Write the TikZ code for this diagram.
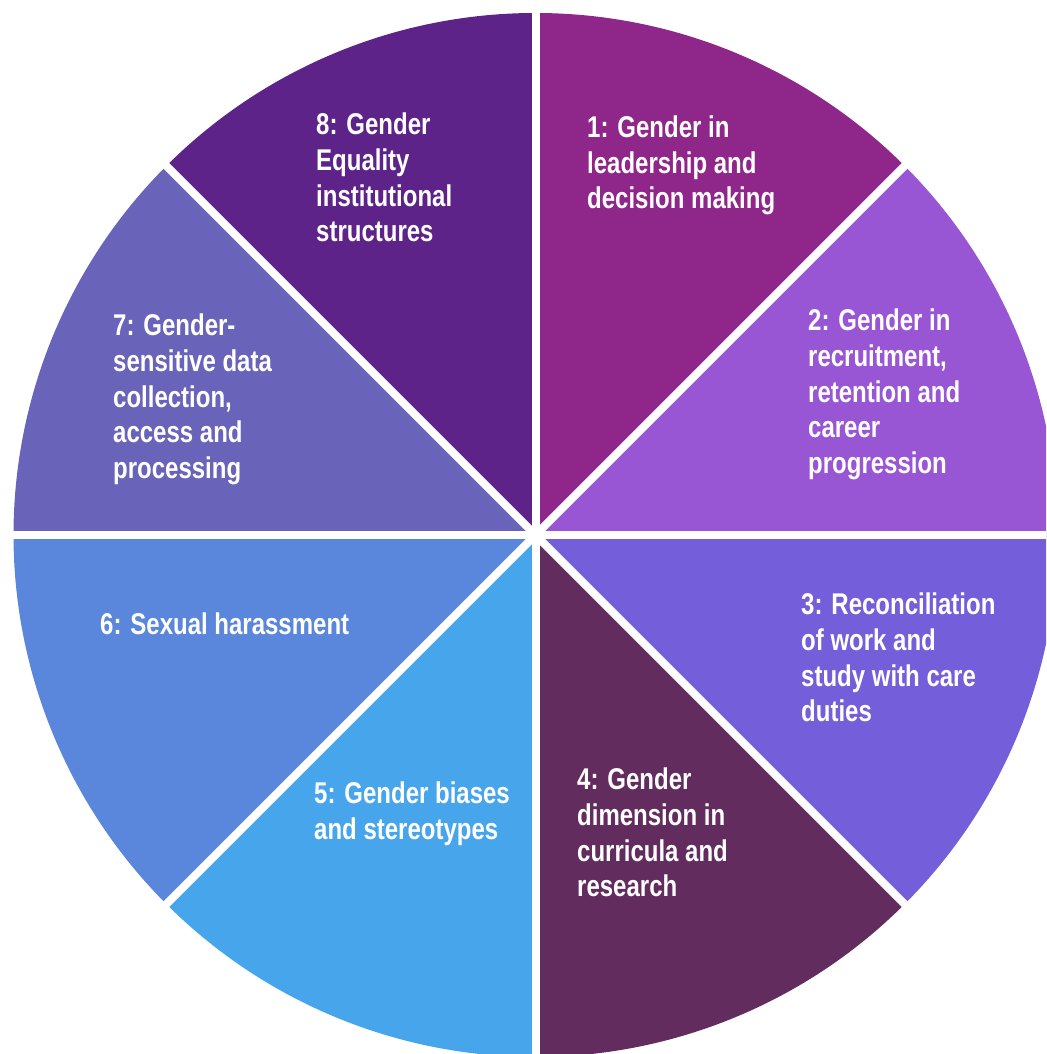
\documentclass[tikz,border=0pt]{standalone}
\usepackage{fontspec}
\newfontfamily\lab{Liberation Sans}[FakeStretch=0.8]
\definecolor{cA}{HTML}{8F2689}
\definecolor{cB}{HTML}{9956D4}
\definecolor{cC}{HTML}{745EDA}
\definecolor{cD}{HTML}{622C5F}
\definecolor{cE}{HTML}{47A5EC}
\definecolor{cF}{HTML}{5A86DB}
\definecolor{cG}{HTML}{6963BA}
\definecolor{cH}{HTML}{5D2389}
\tikzset{
  lbl/.style={text=white, font=\lab\bfseries\fontsize{30}{35.6}\selectfont, align=left, anchor=base west, inner sep=0pt},
  gap/.style={white, line width=8pt}
}
\begin{document}
\begin{tikzpicture}[x=1pt,y=1pt]
\useasboundingbox (0,0) rectangle (1046,1054);
\clip (0,0) rectangle (1046,1054);
\coordinate (O) at (535.5,519);
\def\R{522}
\foreach \a/\b/\c in {45/90/cA, 0/45/cB, -45/0/cC, -90/-45/cD, -135/-90/cE, 180/225/cF, 135/180/cG, 90/135/cH}
  \fill[\c] (O) -- ++(\a:\R) arc[start angle=\a, end angle=\b, radius=\R] -- cycle;
\foreach \a in {0,45,...,315}
  \draw[gap] (O) -- ++(\a:600);
% anchor = baseline of the last line
\node[lbl] (l1) at (587,845.1) {1: Gender in\\leadership and\\decision making};
\node[lbl] (l2) at (808,580.6) {2: Gender in\\recruitment,\\retention and\\career\\progression};
\node[lbl] (l3) at (801,332.2) {3: Reconciliation\\of work and\\study with care\\duties};
\node[lbl] (l4) at (577,157.2) {4: Gender\\dimension in\\curricula and\\research};
\node[lbl] (l5) at (314,214.6) {5: Gender biases\\and stereotypes};
\node[lbl] (l6) at (100,419) {6: Sexual harassment};
\node[lbl] (l7) at (113,575.6) {7: Gender-\\sensitive data\\collection,\\access and\\processing};
\node[lbl] (l8) at (316,812.2) {8: Gender\\Equality\\institutional\\structures};
\end{tikzpicture}
\end{document}
